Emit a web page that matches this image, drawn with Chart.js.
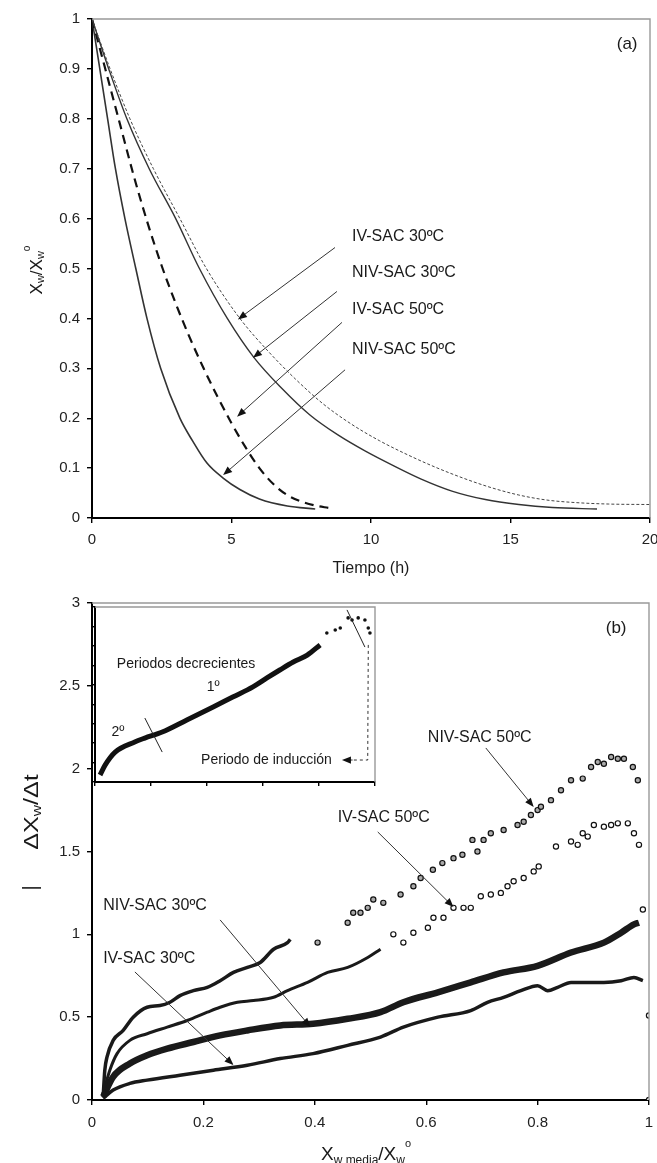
<!DOCTYPE html>
<html><head><meta charset="utf-8">
<script src="https://cdn.jsdelivr.net/npm/chart.js@4.4.1/dist/chart.umd.min.js"></script>
<style>
html,body{margin:0;padding:0;background:#fff;}
#wrap{position:relative;width:657px;height:1163px;overflow:hidden;}
canvas{position:absolute;}
#ca{left:0;top:0;width:657px;height:580px;}
#cb{left:0;top:580px;width:657px;height:583px;}
#ci{left:65px;top:597px;width:317px;height:198px;}
</style></head><body>
<div id="wrap">
<canvas id="ca" width="657" height="580"></canvas>
<canvas id="cb" width="657" height="583"></canvas>
<canvas id="ci" width="317" height="198"></canvas>
</div>
<script>
// ---------- DATA (a) ----------
const xTicksA = [0, 5, 10, 15, 20];
const yTicksA = [0, 0.1, 0.2, 0.3, 0.4, 0.5, 0.6, 0.7, 0.8, 0.9, 1];
const ivSac30A = [[0,1],[0.65,0.9],[1.36,0.8],[2.2,0.7],[3.15,0.6],[4.1,0.5],[5.3,0.4],[6.3,0.335],[7.3,0.278],[8.3,0.228],[9.3,0.188],[10.3,0.155],[11.3,0.127],[12.3,0.102],[13.3,0.08],[14.3,0.061],[15.3,0.046],[16.3,0.036],[17.3,0.031],[18.5,0.028],[20,0.027]];
const nivSac30A = [[0,1],[0.6,0.9],[1.25,0.8],[2.05,0.7],[3.0,0.6],[3.85,0.5],[4.85,0.4],[5.8,0.322],[6.8,0.26],[7.8,0.207],[8.8,0.167],[9.8,0.134],[10.8,0.105],[11.8,0.078],[12.9,0.054],[14.1,0.037],[15.3,0.027],[16.5,0.021],[18.1,0.018]];
const ivSac50A = [[0,1],[0.5,0.895],[1.0,0.79],[1.5,0.685],[2.0,0.59],[2.5,0.505],[3.0,0.43],[3.5,0.362],[4.0,0.3],[4.5,0.243],[5.0,0.19],[5.5,0.142],[6.0,0.1],[6.5,0.068],[7.0,0.046],[7.5,0.033],[8.0,0.025],[8.5,0.02]];
const nivSac50A = [[0,1],[0.28,0.9],[0.56,0.8],[0.84,0.7],[1.18,0.6],[1.57,0.5],[1.97,0.4],[2.46,0.3],[3.15,0.2],[3.6,0.155],[4.12,0.11],[4.7,0.08],[5.3,0.057],[6.0,0.038],[7.0,0.024],[8.0,0.018]];

// ---------- DATA (b) ----------
const xTicksB = [0, 0.2, 0.4, 0.6, 0.8, 1];
const yTicksB = [0, 0.5, 1, 1.5, 2, 2.5, 3];
const nivSac50B = [[0.020,0.018],[0.023,0.18],[0.027,0.26],[0.038,0.36],[0.056,0.42],[0.074,0.50],[0.099,0.56],[0.122,0.57],[0.140,0.59],[0.158,0.63],[0.182,0.66],[0.207,0.68],[0.230,0.72],[0.254,0.77],[0.279,0.80],[0.302,0.83],[0.326,0.91],[0.351,0.95],[0.356,0.97],
 [0.405,0.95],[0.459,1.07],[0.469,1.13],[0.482,1.13],[0.495,1.16],[0.505,1.21],[0.523,1.19],[0.554,1.24],[0.577,1.29],[0.590,1.34],[0.612,1.39],[0.629,1.43],[0.649,1.46],[0.665,1.48],[0.683,1.57],[0.692,1.50],[0.703,1.57],[0.716,1.61],[0.739,1.63],[0.764,1.66],[0.775,1.68],[0.788,1.72],[0.800,1.75],[0.806,1.77],[0.824,1.81],[0.842,1.87],[0.860,1.93],[0.881,1.94],[0.896,2.01],[0.908,2.04],[0.919,2.03],[0.932,2.07],[0.944,2.06],[0.955,2.06],[0.971,2.01],[0.980,1.93]];
const ivSac50B = [[0.020,0.04],[0.032,0.18],[0.045,0.28],[0.068,0.36],[0.099,0.40],[0.135,0.44],[0.171,0.48],[0.207,0.53],[0.230,0.56],[0.261,0.59],[0.290,0.60],[0.326,0.62],[0.351,0.66],[0.387,0.71],[0.423,0.77],[0.459,0.80],[0.495,0.86],[0.518,0.91],
 [0.541,1.00],[0.559,0.95],[0.577,1.01],[0.603,1.04],[0.613,1.10],[0.631,1.10],[0.649,1.16],[0.667,1.16],[0.680,1.16],[0.698,1.23],[0.716,1.24],[0.734,1.25],[0.746,1.29],[0.757,1.32],[0.775,1.34],[0.793,1.38],[0.802,1.41],[0.833,1.53],[0.860,1.56],[0.872,1.54],[0.881,1.61],[0.890,1.59],[0.901,1.66],[0.919,1.65],[0.932,1.66],[0.944,1.67],[0.962,1.67],[0.973,1.61],[0.982,1.54]];
const nivSac30B = [[0.020,0.02],[0.038,0.14],[0.068,0.22],[0.099,0.27],[0.135,0.31],[0.182,0.35],[0.230,0.39],[0.279,0.42],[0.338,0.45],[0.397,0.46],[0.459,0.49],[0.518,0.53],[0.559,0.59],[0.621,0.65],[0.680,0.71],[0.739,0.77],[0.800,0.81],[0.860,0.89],[0.919,0.95],[0.950,1.01],[0.973,1.06],[0.982,1.07],[0.989,1.15]];
const ivSac30B = [[0.020,0.01],[0.038,0.06],[0.068,0.10],[0.099,0.12],[0.158,0.15],[0.218,0.18],[0.279,0.21],[0.338,0.25],[0.397,0.28],[0.459,0.33],[0.518,0.38],[0.559,0.44],[0.621,0.50],[0.680,0.54],[0.710,0.59],[0.739,0.62],[0.770,0.66],[0.800,0.69],[0.818,0.66],[0.836,0.68],[0.860,0.71],[0.890,0.71],[0.919,0.71],[0.950,0.72],[0.973,0.74],[0.989,0.72],[1.0,0.51],[1.0,0.0]];

// ---------- DATA (inset) ----------
const xTicksI = [0, 1, 2, 3, 4, 5];
const yTicksI = [0, 1, 2, 3, 4, 5, 6, 7, 8, 9];
const insetCurve = [[0.09,0.36],[0.18,0.87],[0.36,1.54],[0.71,2.06],[0.89,2.26],[1.20,2.57],[1.64,3.19],[2.11,3.86],[2.46,4.37],[2.82,4.89],[3.07,5.35],[3.30,5.76],[3.54,6.17],[3.79,6.53],[4.02,7.05]];
const insetPeak = [[4.14,7.66],[4.29,7.82],[4.38,7.92],[4.52,8.44],[4.59,8.33],[4.70,8.44],[4.82,8.33],[4.88,7.92],[4.91,7.66]];

// ---------- helpers ----------
const FONT = '"Liberation Sans", Arial, Helvetica, sans-serif';
Chart.defaults.font.family = FONT;
const XY = a => a.map(p => ({x: p[0], y: p[1]}));

function axis(ticksArr, min, max, o) {
  return {
    type: 'linear', min, max,
    afterBuildTicks: s => { s.ticks = ticksArr.map(v => ({value: v})); },
    afterFit: s => {
      if (o.w != null) s.width = o.w;
      if (o.h != null) s.height = o.h;
      s.paddingLeft = 0; s.paddingRight = 0; s.paddingTop = 0; s.paddingBottom = 0;
    },
    ticks: {display: o.labels !== false, color: '#222', font: {size: 15}, padding: o.pad || 6,
            callback: v => String(v), maxRotation: 0, autoSkip: false},
    grid: {drawOnChartArea: false, drawTicks: true, tickLength: o.tl || 5, color: '#000', lineWidth: 1.4},
    border: {display: true, color: '#000', width: 2}
  };
}

function drawRich(ctx, parts, bx, by, rot, stretch) {
  ctx.save();
  ctx.translate(bx, by);
  if (rot) ctx.rotate(rot);
  if (stretch) ctx.scale(stretch, 1);
  let w = 0;
  parts.forEach(p => { ctx.font = p.s + 'px ' + FONT; p.w = ctx.measureText(p.t).width; w += p.w; });
  let x = -w / 2;
  ctx.textBaseline = 'alphabetic'; ctx.textAlign = 'left'; ctx.fillStyle = '#1a1a1a';
  parts.forEach(p => { ctx.font = p.s + 'px ' + FONT; ctx.fillText(p.t, x, p.dy || 0); x += p.w; });
  ctx.restore();
}

const notes = {
  id: 'notes',
  beforeDraw(chart, args, o) {
    if (o.bg) { const a = chart.chartArea, c = chart.ctx; c.save(); c.fillStyle = '#fff'; c.fillRect(a.left, a.top, a.right - a.left, a.bottom - a.top); c.restore(); }
  },
  afterDatasetsDraw(chart, args, o) {
    const c = chart.ctx, a = chart.chartArea, X = chart.scales.x, Y = chart.scales.y;
    const px = v => X.getPixelForValue(v), py = v => Y.getPixelForValue(v);
    c.save();
    if (o.frame) {
      c.strokeStyle = o.frame; c.lineWidth = 1.4; c.beginPath();
      c.moveTo(a.left, a.top); c.lineTo(a.right, a.top); c.lineTo(a.right, a.bottom); c.stroke();
    }
    (o.lines || []).forEach(l => {
      c.strokeStyle = l.color || '#333'; c.lineWidth = l.w || 1; c.setLineDash(l.dash || []);
      c.beginPath(); l.pts.forEach((p, i) => i ? c.lineTo(px(p[0]), py(p[1])) : c.moveTo(px(p[0]), py(p[1]))); c.stroke();
    });
    c.setLineDash([]);
    (o.arrows || []).forEach(ar => {
      const x1 = px(ar.from[0]), y1 = py(ar.from[1]), x2 = px(ar.to[0]), y2 = py(ar.to[1]);
      const ang = Math.atan2(y2 - y1, x2 - x1), L = 9, W = 3.6;
      c.strokeStyle = '#333'; c.lineWidth = 1;
      c.beginPath(); c.moveTo(x1, y1); c.lineTo(x2 - Math.cos(ang) * L * 0.7, y2 - Math.sin(ang) * L * 0.7); c.stroke();
      c.fillStyle = '#111'; c.beginPath();
      c.moveTo(x2, y2);
      c.lineTo(x2 - Math.cos(ang) * L - Math.sin(ang) * W, y2 - Math.sin(ang) * L + Math.cos(ang) * W);
      c.lineTo(x2 - Math.cos(ang) * L + Math.sin(ang) * W, y2 - Math.sin(ang) * L - Math.cos(ang) * W);
      c.closePath(); c.fill();
    });
    (o.texts || []).forEach(t => {
      c.font = (t.size || 16) + 'px ' + FONT; c.fillStyle = '#1a1a1a';
      c.textAlign = t.align || 'left'; c.textBaseline = 'middle';
      c.fillText(t.t, px(t.x), py(t.y));
    });
    c.restore();
    if (o.titles) o.titles(c);
  }
};

// ---------- chart (a) ----------
new Chart(document.getElementById('ca'), {
  type: 'scatter',
  data: {datasets: [
    {data: XY(ivSac30A), showLine: true, borderColor: '#444', borderWidth: 1, borderDash: [3, 2], pointRadius: 0, cubicInterpolationMode: 'monotone'},
    {data: XY(nivSac30A), showLine: true, borderColor: '#333', borderWidth: 1.4, pointRadius: 0, cubicInterpolationMode: 'monotone'},
    {data: XY(ivSac50A), showLine: true, borderColor: '#111', borderWidth: 2.2, borderDash: [9, 6], pointRadius: 0, cubicInterpolationMode: 'monotone'},
    {data: XY(nivSac50A), showLine: true, borderColor: '#333', borderWidth: 1.6, pointRadius: 0, cubicInterpolationMode: 'monotone'}
  ]},
  options: {
    responsive: false, animation: false, events: [],
    layout: {padding: {left: 0, top: 19, right: 7, bottom: 0}},
    scales: {x: axis(xTicksA, 0, 20, {h: 62, pad: 8}), y: axis(yTicksA, 0, 1, {w: 92, pad: 7})},
    plugins: {legend: {display: false}, tooltip: {enabled: false},
      notes: {
        frame: '#999',
        arrows: [
          {from: [8.71, 0.542], to: [5.23, 0.398]},
          {from: [8.78, 0.454], to: [5.77, 0.321]},
          {from: [8.96, 0.392], to: [5.2, 0.203]},
          {from: [9.07, 0.297], to: [4.7, 0.086]}
        ],
        texts: [
          {t: 'IV-SAC 30ºC', x: 9.32, y: 0.564},
          {t: 'NIV-SAC 30ºC', x: 9.32, y: 0.492},
          {t: 'IV-SAC 50ºC', x: 9.32, y: 0.418},
          {t: 'NIV-SAC 50ºC', x: 9.32, y: 0.337},
          {t: '(a)', x: 19.18, y: 0.95, align: 'center', size: 17}
        ],
        titles: c => {
          drawRich(c, [{t: 'Tiempo (h)', s: 16}], 371, 573);
          drawRich(c, [{t: 'X', s: 17}, {t: 'w', s: 11, dy: 2}, {t: '/X', s: 17}, {t: 'w', s: 11, dy: 2}, {t: 'o', s: 10, dy: -12}], 42, 270, -Math.PI / 2);
        }
      }
    }
  },
  plugins: [notes]
});

// ---------- chart (b) ----------
function band(data, until, bw) {
  return {data: XY(data.filter(p => p[0] <= until)), showLine: true, borderColor: '#1a1a1a', borderWidth: bw, pointRadius: 0, cubicInterpolationMode: 'monotone'};
}
function dots(data, after, fill) {
  return {data: XY(data.filter(p => p[0] > after)), showLine: false, pointRadius: 2.6, pointBorderWidth: 1.2, pointBorderColor: '#111', pointBackgroundColor: fill};
}
new Chart(document.getElementById('cb'), {
  type: 'scatter',
  data: {datasets: [
    band(nivSac50B, 0.36, 3.5), dots(nivSac50B, 0.36, '#aaa'),
    band(ivSac50B, 0.52, 3), dots(ivSac50B, 0.52, '#fff'),
    band(nivSac30B, 0.983, 6.5), dots(nivSac30B, 0.983, '#fff'),
    band(ivSac30B, 0.99, 3.5), dots(ivSac30B, 0.99, '#fff')
  ]},
  options: {
    responsive: false, animation: false, events: [],
    layout: {padding: {left: 0, top: 23, right: 8, bottom: 0}},
    scales: {x: axis(xTicksB, 0, 1, {h: 63, pad: 9}), y: axis(yTicksB, 0, 3, {w: 92, pad: 7})},
    plugins: {legend: {display: false}, tooltip: {enabled: false},
      notes: {
        frame: '#999',
        arrows: [
          {from: [0.707, 2.125], to: [0.793, 1.769]},
          {from: [0.513, 1.618], to: [0.649, 1.165]},
          {from: [0.230, 1.087], to: [0.392, 0.441]},
          {from: [0.077, 0.773], to: [0.254, 0.211]}
        ],
        texts: [
          {t: 'NIV-SAC 50ºC', x: 0.603, y: 2.185},
          {t: 'IV-SAC 50ºC', x: 0.441, y: 1.702},
          {t: 'NIV-SAC 30ºC', x: 0.020, y: 1.171},
          {t: 'IV-SAC 30ºC', x: 0.020, y: 0.851},
          {t: '(b)', x: 0.941, y: 2.849, align: 'center', size: 17}
        ],
        titles: c => {
          drawRich(c, [{t: 'X', s: 19}, {t: 'w media', s: 12, dy: 4}, {t: '/X', s: 19}, {t: 'w', s: 12, dy: 4}, {t: 'o', s: 11, dy: -13}], 366, 1160 - 580);
          drawRich(c, [{t: 'ΔX', s: 21}, {t: 'w', s: 13, dy: 3}, {t: '/Δt', s: 21}], 38, 812 - 580, -Math.PI / 2, 1.2);
          drawRich(c, [{t: '|', s: 20}], 37, 888 - 580, -Math.PI / 2);
        }
      }
    }
  },
  plugins: [notes]
});

// ---------- inset ----------
new Chart(document.getElementById('ci'), {
  type: 'scatter',
  data: {datasets: [
    {data: XY(insetCurve), showLine: true, borderColor: '#111', borderWidth: 5, pointRadius: 0, cubicInterpolationMode: 'monotone'},
    {data: XY(insetPeak), showLine: false, pointRadius: 1.8, pointBorderWidth: 0, pointBackgroundColor: '#111'}
  ]},
  options: {
    responsive: false, animation: false, events: [],
    layout: {padding: {left: 0, top: 10, right: 7, bottom: 0}},
    scales: {x: axis(xTicksI, 0, 5, {h: 13, labels: false, tl: 4}), y: axis(yTicksI, 0, 9, {w: 30, labels: false, tl: 4})},
    plugins: {legend: {display: false}, tooltip: {enabled: false},
      notes: {
        bg: true, frame: '#999',
        lines: [
          {pts: [[0.89, 3.29], [1.20, 1.54]], color: '#222', w: 1},
          {pts: [[4.5, 8.85], [4.82, 6.94]], color: '#222', w: 1},
          {pts: [[4.88, 7.05], [4.87, 1.13], [4.55, 1.13]], color: '#333', w: 1, dash: [3, 3]}
        ],
        arrows: [{from: [4.6, 1.13], to: [4.41, 1.13]}],
        texts: [
          {t: 'Periodos decrecientes', x: 0.39, y: 6.07, size: 14},
          {t: '1º', x: 2.11, y: 4.89, size: 14, align: 'center'},
          {t: '2º', x: 0.41, y: 2.57, size: 14, align: 'center'},
          {t: 'Periodo de inducción', x: 4.23, y: 1.13, size: 14, align: 'right'}
        ]
      }
    }
  },
  plugins: [notes]
});
</script>
</body></html>
